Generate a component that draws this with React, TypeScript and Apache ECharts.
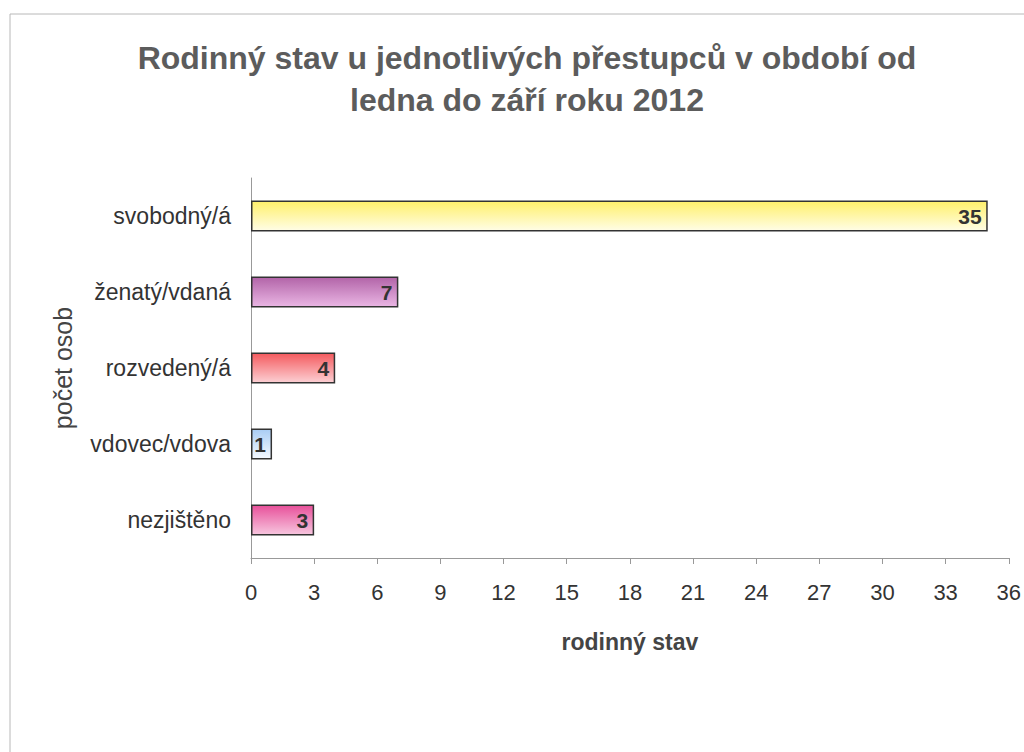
import React, { useEffect, useRef } from "react";
import * as echarts from "echarts";

const categories = ["svobodný/á", "ženatý/vdaná", "rozvedený/á", "vdovec/vdova", "nezjištěno"];
const values = [35, 7, 4, 1, 3];
const gradientStops: [string, string][] = [
  ["#fff06a", "#fffde6"],
  ["#b264a8", "#eab6e4"],
  ["#f45a5e", "#fcd0d4"],
  ["#a9cdf5", "#f4f9ff"],
  ["#e8509a", "#f7c6df"],
];
const titleText = "Rodinný stav u jednotlivých přestupců v období od\nledna do září roku 2012";
const xAxisName = "rodinný stav";
const yAxisName = "počet osob";

export default function App() {
  const ref = useRef<HTMLDivElement>(null);
  useEffect(() => {
    if (!ref.current) return;
    const chart = echarts.init(ref.current, undefined, { renderer: "svg" });
    const font = "'Liberation Sans', Arial, sans-serif";
    chart.setOption({
      animation: false,
      backgroundColor: "#ffffff",
      textStyle: { fontFamily: font },
      title: {
        text: titleText,
        left: 522,
        textAlign: "center",
        top: 32,
        textStyle: { fontSize: 32, fontWeight: "bold", color: "#5c5c5c", lineHeight: 42, fontFamily: font },
      },
      graphic: [
        { type: "line", shape: { x1: 10, y1: 14, x2: 1024, y2: 14 }, style: { stroke: "#b8b8b8", lineWidth: 1 } },
        { type: "line", shape: { x1: 10, y1: 14, x2: 10, y2: 752 }, style: { stroke: "#b8b8b8", lineWidth: 1 } },
      ],
      grid: { left: 251, width: 765, top: 178, bottom: 194, containLabel: false },
      xAxis: {
        type: "value",
        min: 0,
        max: 36,
        interval: 3,
        name: xAxisName,
        nameLocation: "middle",
        nameGap: 72,
        nameTextStyle: { fontSize: 23, fontWeight: "bold", color: "#444444", fontFamily: font },
        axisLine: { show: true, lineStyle: { color: "#999999" } },
        axisTick: { show: true, length: 6, lineStyle: { color: "#999999" } },
        axisLabel: { fontSize: 22, color: "#333333", margin: 23, fontFamily: font },
        splitLine: { show: false },
      },
      yAxis: {
        type: "category",
        data: categories,
        inverse: true,
        name: yAxisName,
        nameLocation: "middle",
        nameRotate: 90,
        nameGap: 176,
        nameTextStyle: { fontSize: 25, color: "#444444", fontFamily: font },
        axisLine: { show: true, lineStyle: { color: "#999999" } },
        axisTick: { show: false },
        axisLabel: { fontSize: 23, color: "#333333", margin: 20, fontFamily: font },
      },
      series: [
        {
          type: "bar",
          barWidth: 31,
          data: values.map((v, i) => ({
            value: v,
            itemStyle: {
              color: new echarts.graphic.LinearGradient(0, 0, 0, 1, [
                { offset: 0, color: gradientStops[i][0] },
                { offset: 1, color: gradientStops[i][1] },
              ]),
              borderColor: "#333333",
              borderWidth: 1.5,
            },
          })),
          label: {
            show: true,
            position: "insideRight",
            distance: 6,
            fontSize: 21,
            fontWeight: "bold",
            color: "#333333",
            fontFamily: font,
          },
        },
      ],
    });
    return () => chart.dispose();
  }, []);
  return (
    <div
      ref={ref}
      style={{ position: "fixed", left: 0, top: 0, width: 1024, height: 752 }}
    />
  );
}
